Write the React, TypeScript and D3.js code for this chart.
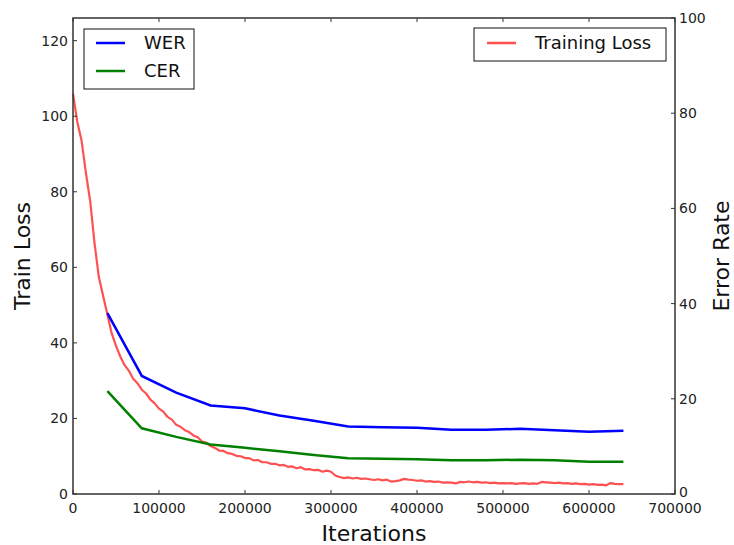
import React from "react";
import * as d3 from "d3";

const W = 734;
const H = 545;
const left = 73;
const right = 675;
const top = 18;
const bottom = 494;

// error rates, evaluated every 40000 iterations
const evalIters = [40000, 80000, 120000, 160000, 200000, 240000, 280000, 320000, 360000, 400000,
    440000, 480000, 520000, 560000, 600000, 640000];
const wer = [38.0, 24.8, 21.3, 18.6, 18.0, 16.5, 15.4, 14.2, 14.0, 13.9, 13.5, 13.5, 13.7, 13.4, 13.1, 13.3];
const cer = [21.6, 13.8, 12.0, 10.4, 9.7, 9.0, 8.2, 7.5, 7.4, 7.3, 7.1, 7.1, 7.2, 7.1, 6.8, 6.8];

// training loss, sampled every 5000 iterations
const lossStep = 5000;
const trainLoss = [
    106, 98.5, 93.5, 85, 77.5, 66.5, 57.5, 52.5, 47.5, 42.5,
    39.2, 36.4, 34.1, 32.6, 30.5, 29.3, 27.6, 26.6, 25.0, 24.0,
    22.6, 21.8, 20.4, 19.7, 18.3, 17.8, 16.9, 16.4, 15.5, 15.0,
    13.9, 13.6, 12.7, 12.2, 11.5, 11.4, 10.8, 10.6, 10.1, 10.0,
    9.5, 9.5, 8.9, 9.0, 8.4, 8.4, 8.0, 8.0, 7.6, 7.7,
    7.2, 7.3, 6.8, 7.1, 6.5, 6.6, 6.3, 6.4, 5.9, 6.2,
    5.9, 4.9, 4.5, 4.2, 4.4, 4.1, 4.3, 4.0, 4.1, 3.9,
    3.7, 3.9, 3.6, 3.8, 3.3, 3.4, 3.6, 4.0, 3.8, 3.7,
    3.5, 3.6, 3.3, 3.4, 3.2, 3.3, 3.0, 3.1, 3.0, 2.8,
    3.2, 3.1, 3.3, 3.1, 3.2, 3.0, 3.1, 2.9, 3.0, 2.8,
    2.9, 2.8, 2.9, 2.7, 2.8, 2.9, 2.7, 2.8, 2.7, 3.2,
    3.1, 3.0, 2.9, 3.0, 2.8, 2.9, 2.7, 2.8, 2.6, 2.7,
    2.5, 2.6, 2.4, 2.5, 2.3, 2.9, 2.7, 2.6, 2.6,
];

const xTicks = [0, 100000, 200000, 300000, 400000, 500000, 600000, 700000];
const lossTicks = [0, 20, 40, 60, 80, 100, 120];
const rateTicks = [0, 20, 40, 60, 80, 100];

const font = "DejaVu Sans, sans-serif";

function App() {
    const x = d3.scaleLinear().domain([0, 700000]).range([left, right]);
    const yL = d3.scaleLinear().domain([0, 126]).range([bottom, top]);
    const yR = d3.scaleLinear().domain([0, 100]).range([bottom, top]);

    const lossLine = d3.line<number>()
        .x((d, i) => x(i * lossStep))
        .y(d => yL(d));
    const rateLine = d3.line<number>()
        .x((d, i) => x(evalIters[i]))
        .y(d => yR(d));

    const spine = "#333";

    return (
        <svg width={W} height={H} style={{position: "absolute", left: 0, top: 0}} fontFamily={font}>
            <rect x={0} y={0} width={W} height={H} fill="white"/>

            <path d={lossLine(trainLoss) || ""} fill="none" stroke="#ff3333" strokeOpacity={0.85}
                  strokeWidth={2.2} strokeLinejoin="round"/>
            <path d={rateLine(wer) || ""} fill="none" stroke="#0000ff" strokeWidth={2.5}/>
            <path d={rateLine(cer) || ""} fill="none" stroke="#008000" strokeWidth={2.5}/>

            {/* ticks */}
            {xTicks.map(t => (
                <g key={"x" + t}>
                    <line x1={x(t)} x2={x(t)} y1={bottom} y2={bottom - 4} stroke={spine}/>
                    <line x1={x(t)} x2={x(t)} y1={top} y2={top + 4} stroke={spine}/>
                    <text x={x(t)} y={bottom + 19} fontSize={14} textAnchor="middle" fill="#222">{t}</text>
                </g>
            ))}
            {lossTicks.map(t => (
                <g key={"l" + t}>
                    <line x1={left} x2={left + 4} y1={yL(t)} y2={yL(t)} stroke={spine}/>
                    <text x={left - 5} y={yL(t)} dy="0.35em" fontSize={14} textAnchor="end" fill="#222">{t}</text>
                </g>
            ))}
            {rateTicks.map(t => (
                <g key={"r" + t}>
                    <line x1={right} x2={right - 4} y1={yR(t)} y2={yR(t)} stroke={spine}/>
                    <text x={right + 4} y={t === 0 ? yR(t) - 2 : yR(t)} dy="0.35em" fontSize={14}
                          textAnchor="start" fill="#222">{t}</text>
                </g>
            ))}

            <rect x={left} y={top} width={right - left} height={bottom - top} fill="none" stroke={spine}
                  strokeWidth={1.5}/>

            {/* axis titles */}
            <text x={374} y={541} fontSize={22} textAnchor="middle" fill="#111">Iterations</text>
            <text transform={`translate(30,256) rotate(-90)`} fontSize={22} textAnchor="middle" fill="#111">Train Loss</text>
            <text transform={`translate(729,256) rotate(-90)`} fontSize={22} textAnchor="middle" fill="#111">Error Rate</text>

            {/* legends */}
            <rect x={84} y={29} width={110} height={60} fill="white" stroke="#111" strokeWidth={1}/>
            <line x1={96} x2={125} y1={43} y2={43} stroke="#0000ff" strokeWidth={2.5}/>
            <text x={144} y={43} dy="0.36em" fontSize={18} fill="#111">WER</text>
            <line x1={96} x2={125} y1={71} y2={71} stroke="#008000" strokeWidth={2.5}/>
            <text x={144} y={71} dy="0.36em" fontSize={18} fill="#111">CER</text>

            <rect x={474} y={28} width={192} height={33} fill="white" stroke="#111" strokeWidth={1}/>
            <line x1={487} x2={516} y1={43} y2={43} stroke="#ff3333" strokeOpacity={0.85} strokeWidth={2.5}/>
            <text x={535} y={43} dy="0.36em" fontSize={18} fill="#111">Training Loss</text>
        </svg>
    );
}

export default App;
